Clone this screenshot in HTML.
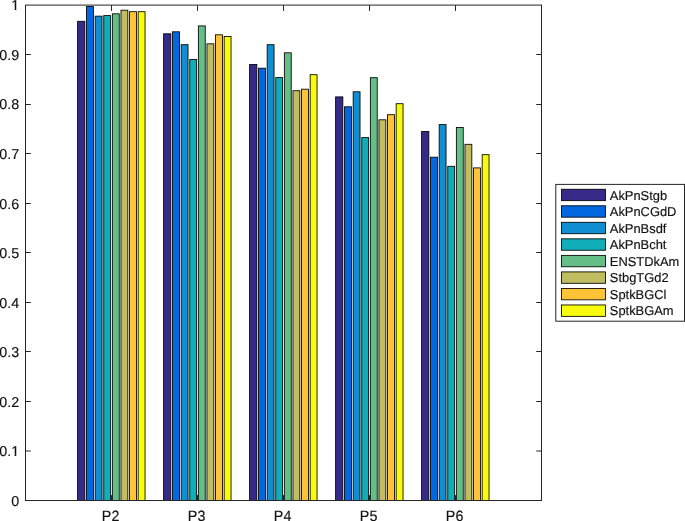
<!DOCTYPE html>
<html><head><meta charset="utf-8"><title>bar chart</title>
<style>
html,body{margin:0;padding:0;background:#fff;overflow:hidden}
svg{display:block}
text{font-family:"Liberation Sans",sans-serif;text-rendering:geometricPrecision;fill:#111;stroke:#111;stroke-width:0.15px}
.ax{font-size:14.3px}
.lg{font-size:12.9px;stroke-width:0.12px}
</style></head><body>
<svg width="685" height="521" viewBox="0 0 685 521">
<rect x="0" y="0" width="685" height="521" fill="#fff"/>
<g stroke="#000" stroke-width="0.85">
<rect x="77.61" y="21.30" width="7.23" height="479.20" fill="#352A87"/>
<rect x="86.56" y="6.60" width="6.88" height="493.90" fill="#0268E1"/>
<rect x="95.16" y="16.15" width="6.88" height="484.35" fill="#108ED2"/>
<rect x="103.76" y="15.60" width="6.88" height="484.90" fill="#0FAEB9"/>
<rect x="112.36" y="13.80" width="6.88" height="486.70" fill="#65BE86"/>
<rect x="120.96" y="10.20" width="6.88" height="490.30" fill="#C0BC60"/>
<rect x="129.56" y="11.70" width="6.88" height="488.80" fill="#FFC337"/>
<rect x="138.16" y="11.70" width="6.88" height="488.80" fill="#F9FB0E"/>
<rect x="163.61" y="33.80" width="7.23" height="466.70" fill="#352A87"/>
<rect x="172.56" y="31.80" width="6.88" height="468.70" fill="#0268E1"/>
<rect x="181.16" y="44.70" width="6.88" height="455.80" fill="#108ED2"/>
<rect x="189.76" y="59.50" width="6.88" height="441.00" fill="#0FAEB9"/>
<rect x="198.36" y="25.90" width="6.88" height="474.60" fill="#65BE86"/>
<rect x="206.96" y="43.80" width="6.88" height="456.70" fill="#C0BC60"/>
<rect x="215.56" y="34.80" width="6.88" height="465.70" fill="#FFC337"/>
<rect x="224.16" y="36.50" width="6.88" height="464.00" fill="#F9FB0E"/>
<rect x="249.61" y="64.50" width="7.23" height="436.00" fill="#352A87"/>
<rect x="258.56" y="68.20" width="6.88" height="432.30" fill="#0268E1"/>
<rect x="267.16" y="44.70" width="6.88" height="455.80" fill="#108ED2"/>
<rect x="275.76" y="77.60" width="6.88" height="422.90" fill="#0FAEB9"/>
<rect x="284.36" y="52.80" width="6.88" height="447.70" fill="#65BE86"/>
<rect x="292.96" y="90.70" width="6.88" height="409.80" fill="#C0BC60"/>
<rect x="301.56" y="89.20" width="6.88" height="411.30" fill="#FFC337"/>
<rect x="310.16" y="74.70" width="6.88" height="425.80" fill="#F9FB0E"/>
<rect x="335.61" y="96.90" width="7.23" height="403.60" fill="#352A87"/>
<rect x="344.56" y="106.80" width="6.88" height="393.70" fill="#0268E1"/>
<rect x="353.16" y="91.80" width="6.88" height="408.70" fill="#108ED2"/>
<rect x="361.76" y="137.60" width="6.88" height="362.90" fill="#0FAEB9"/>
<rect x="370.36" y="77.70" width="6.88" height="422.80" fill="#65BE86"/>
<rect x="378.96" y="119.80" width="6.88" height="380.70" fill="#C0BC60"/>
<rect x="387.56" y="114.70" width="6.88" height="385.80" fill="#FFC337"/>
<rect x="396.16" y="103.70" width="6.88" height="396.80" fill="#F9FB0E"/>
<rect x="421.61" y="131.50" width="7.23" height="369.00" fill="#352A87"/>
<rect x="430.56" y="157.20" width="6.88" height="343.30" fill="#0268E1"/>
<rect x="439.16" y="124.60" width="6.88" height="375.90" fill="#108ED2"/>
<rect x="447.76" y="166.30" width="6.88" height="334.20" fill="#0FAEB9"/>
<rect x="456.36" y="127.50" width="6.88" height="373.00" fill="#65BE86"/>
<rect x="464.96" y="144.30" width="6.88" height="356.20" fill="#C0BC60"/>
<rect x="473.56" y="167.90" width="6.88" height="332.60" fill="#FFC337"/>
<rect x="482.16" y="154.70" width="6.88" height="345.80" fill="#F9FB0E"/>
</g>
<g stroke="#262626" stroke-width="1" fill="none">
<rect x="25.50" y="5.10" width="516.00" height="495.40"/>
<path d="M25.50 451.00h5.3M541.50 451.00h-5.3"/>
<path d="M25.50 401.50h5.3M541.50 401.50h-5.3"/>
<path d="M25.50 351.50h5.3M541.50 351.50h-5.3"/>
<path d="M25.50 302.50h5.3M541.50 302.50h-5.3"/>
<path d="M25.50 252.50h5.3M541.50 252.50h-5.3"/>
<path d="M25.50 203.50h5.3M541.50 203.50h-5.3"/>
<path d="M25.50 153.50h5.3M541.50 153.50h-5.3"/>
<path d="M25.50 104.50h5.3M541.50 104.50h-5.3"/>
<path d="M25.50 54.50h5.3M541.50 54.50h-5.3"/>
<path d="M111.50 500.50v-5.4M111.50 5.10v5.8"/>
<path d="M197.50 500.50v-5.4M197.50 5.10v5.8"/>
<path d="M283.50 500.50v-5.4M283.50 5.10v5.8"/>
<path d="M369.50 500.50v-5.4M369.50 5.10v5.8"/>
<path d="M455.50 500.50v-5.4M455.50 5.10v5.8"/>
</g>
<g class="ax" text-anchor="end">
<text transform="translate(19.2 505.75) rotate(0.02)">0</text>
<clipPath id="c0_1"><rect x="0" y="441.21" width="11.5" height="20"/><rect x="11.5" y="441.21" width="15" height="12.70"/><rect x="14.6" y="453.81" width="1.75" height="4"/></clipPath>
<g clip-path="url(#c0_1)"><text transform="translate(19.2 456.21) rotate(0.02)">0.1</text></g>
<text transform="translate(19.2 406.67) rotate(0.02)">0.2</text>
<text transform="translate(19.2 357.13) rotate(0.02)">0.3</text>
<text transform="translate(19.2 307.59) rotate(0.02)">0.4</text>
<text transform="translate(19.2 258.05) rotate(0.02)">0.5</text>
<text transform="translate(19.2 208.51) rotate(0.02)">0.6</text>
<text transform="translate(19.2 158.97) rotate(0.02)">0.7</text>
<text transform="translate(19.2 109.43) rotate(0.02)">0.8</text>
<text transform="translate(19.2 59.89) rotate(0.02)">0.9</text>
<clipPath id="c1"><rect x="0" y="-4.65" width="11.5" height="20"/><rect x="11.5" y="-4.65" width="15" height="12.70"/><rect x="14.6" y="7.95" width="1.75" height="4"/></clipPath>
<g clip-path="url(#c1)"><text transform="translate(19.2 10.35) rotate(0.02)">1</text></g>
</g>
<g class="ax" text-anchor="middle">
<text transform="translate(110.60 520.6) rotate(0.02) scale(1 1.045)">P2</text>
<text transform="translate(196.60 520.6) rotate(0.02) scale(1 1.045)">P3</text>
<text transform="translate(282.60 520.6) rotate(0.02) scale(1 1.045)">P4</text>
<text transform="translate(368.60 520.6) rotate(0.02) scale(1 1.045)">P5</text>
<text transform="translate(454.60 520.6) rotate(0.02) scale(1 1.045)">P6</text>
</g>
<rect x="555.80" y="184.40" width="128.70" height="136.80" fill="#fff" stroke="#262626" stroke-width="1"/>
<g stroke="#000" stroke-width="0.85">
<rect x="561.55" y="189.25" width="43.9" height="11.4" fill="#352A87"/>
<rect x="561.55" y="205.78" width="43.9" height="11.4" fill="#0268E1"/>
<rect x="561.55" y="222.31" width="43.9" height="11.4" fill="#108ED2"/>
<rect x="561.55" y="238.84" width="43.9" height="11.4" fill="#0FAEB9"/>
<rect x="561.55" y="255.37" width="43.9" height="11.4" fill="#65BE86"/>
<rect x="561.55" y="271.90" width="43.9" height="11.4" fill="#C0BC60"/>
<rect x="561.55" y="288.43" width="43.9" height="11.4" fill="#FFC337"/>
<rect x="561.55" y="304.96" width="43.9" height="11.4" fill="#F9FB0E"/>
</g>
<g class="lg">
<text transform="translate(609.8 200.00) rotate(0.02)">AkPnStgb</text>
<text transform="translate(609.8 215.70) rotate(0.02)">AkPnCGdD</text>
<text transform="translate(609.8 233.05) rotate(0.02)">AkPnBsdf</text>
<text transform="translate(609.8 248.80) rotate(0.02)">AkPnBcht</text>
<text transform="translate(609.8 266.00) rotate(0.02)">ENSTDkAm</text>
<text transform="translate(609.8 281.85) rotate(0.02)">StbgTGd2</text>
<text transform="translate(609.8 299.15) rotate(0.02)">SptkBGCl</text>
<text transform="translate(609.8 315.00) rotate(0.02)">SptkBGAm</text>
</g>
</svg>
</body></html>
